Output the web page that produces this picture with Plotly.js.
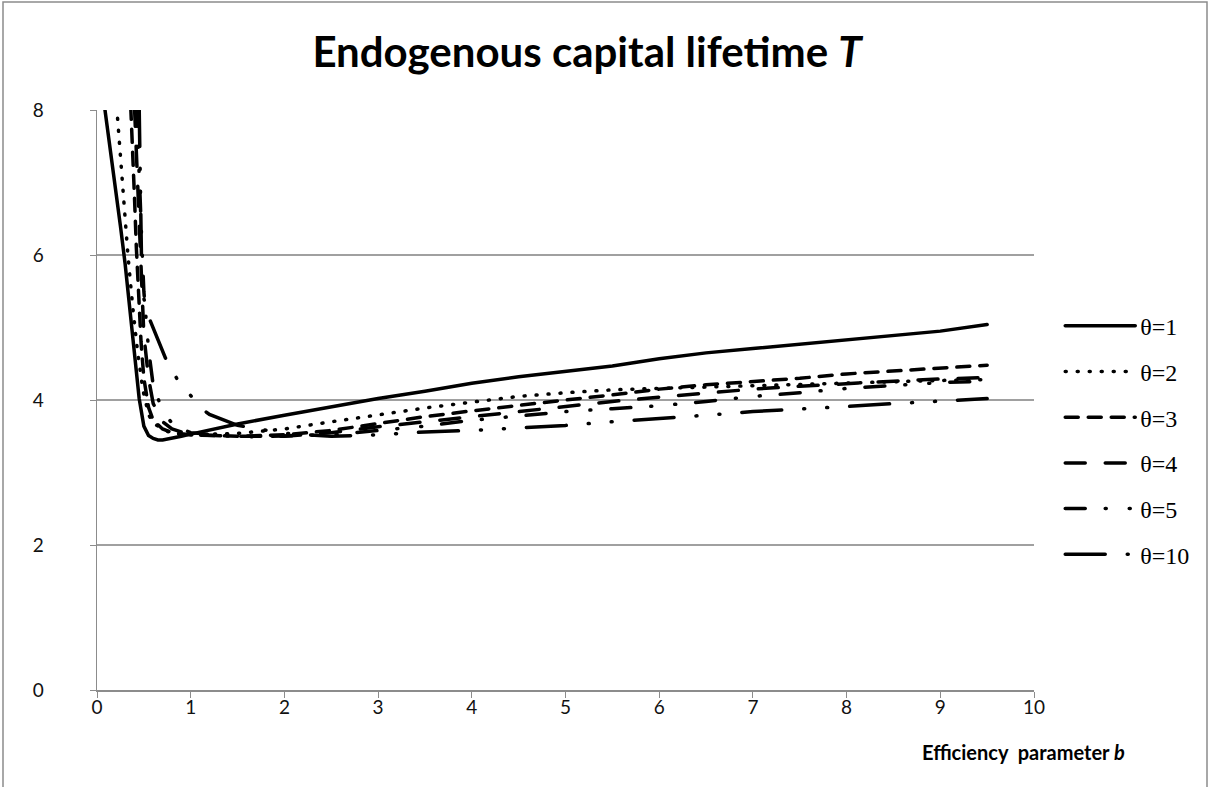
<!DOCTYPE html>
<html>
<head>
<meta charset="utf-8">
<script src="https://cdn.plot.ly/plotly-3.0.1.min.js"></script>
<style>
html,body{margin:0;padding:0;background:#fff;}
#chart{width:1210px;height:787px;}
.js-plotly-plot .scatterlayer path.js-line,
.js-plotly-plot .legend path.js-line{stroke-linecap:round;}
</style>
</head>
<body>
<div id="chart"></div>
<script>
// Efficiency parameter b and capital lifetime T for each theta
const b1  = [0.08,0.15,0.2,0.25,0.3,0.35,0.4,0.45,0.5,0.55,0.6,0.65,0.7,0.8,0.9,1.0,1.5,2,2.5,3,3.5,4,4.5,5,5.5,6,6.5,7,7.5,8,8.5,9,9.5];
const t1  = [8.05,7.4,6.9,6.4,5.88,5.25,4.6,4.02,3.64,3.51,3.47,3.45,3.45,3.47,3.5,3.53,3.67,3.79,3.91,4.02,4.12,4.23,4.32,4.4,4.47,4.57,4.65,4.71,4.77,4.84,4.89,4.95,5.04];

const b2  = [0.21,0.25,0.3,0.33,0.38,0.43,0.49,0.55,0.6,0.7,0.8,1.0,1.5,2,2.5,3,3.5,4,4.5,5,5.5,6,6.5,7,7.5,8,8.5,9,9.5];
const t2  = [8.05,7.35,6.5,6.0,5.3,4.7,4.14,3.8,3.68,3.6,3.54,3.52,3.54,3.6,3.7,3.8,3.89,3.97,4.05,4.1,4.14,4.16,4.18,4.2,4.21,4.23,4.25,4.27,4.28];

const b3  = [0.36,0.38,0.4,0.42,0.44,0.47,0.5,0.55,0.6,0.7,0.8,1.0,1.5,2,2.5,3,3.5,4,4.5,5,5.5,6,6.5,7,7.5,8,8.5,9,9.5];
const t3  = [8.05,7.5,6.8,6.1,5.5,4.8,4.3,3.9,3.72,3.6,3.55,3.52,3.5,3.52,3.58,3.68,3.77,3.85,3.93,4.0,4.07,4.15,4.21,4.25,4.3,4.36,4.4,4.44,4.48];

const b4  = [0.4,0.42,0.44,0.46,0.48,0.5,0.55,0.6,0.7,0.8,1.0,1.5,2,2.5,3,3.5,4,4.5,5,5.5,6,6.5,7,7.5,8,8.5,9,9.5];
const t4  = [8.05,7.4,6.7,6.0,5.4,4.9,4.3,3.95,3.7,3.6,3.52,3.5,3.5,3.55,3.63,3.7,3.78,3.85,3.92,3.98,4.04,4.1,4.15,4.19,4.23,4.26,4.29,4.31];

const b5  = [0.42,0.44,0.46,0.48,0.5,0.55,0.6,0.7,0.8,0.9,1.0,1.5,2,2.5,3,3.5,4,4.5,5,5.5,6,6.5,7,7.5,8,8.5,9,9.5];
const t5  = [8.05,7.5,6.8,6.1,5.5,4.7,4.2,3.85,3.68,3.6,3.55,3.49,3.5,3.52,3.58,3.64,3.72,3.78,3.84,3.88,3.92,3.98,4.05,4.1,4.16,4.2,4.24,4.26];

const b10 = [0.45,0.46,0.47,0.48,0.55,0.64,0.73,0.85,1.0,1.1,1.2,1.35,1.5,2,2.5,3,3.5,4,4.5,5,5.5,6,6.5,7,7.5,8,8.5,9,9.5];
const t10 = [8.05,7.0,6.0,5.5,5.15,4.86,4.58,4.3,4.05,3.9,3.8,3.72,3.65,3.54,3.5,3.52,3.56,3.58,3.61,3.65,3.7,3.74,3.79,3.84,3.87,3.91,3.95,3.98,4.02];

const seriesNames = ["θ=1","θ=2","θ=3","θ=4","θ=5","θ=10"];
const xTicks = [0,1,2,3,4,5,6,7,8,9,10];
const yTicks = [0,2,4,6,8];

const xs = [b1,b2,b3,b4,b5,b10];
const ys = [t1,t2,t3,t4,t5,t10];
const dashes = ["solid","1px,11px","13px,10px","20px,20px","20px,20px,1px,23px,1px,20px","40px,22px,1px,22px,1px,22px"];

const traces = xs.map((x,i)=>({
  x: x, y: ys[i], type:"scatter", mode:"lines", name: seriesNames[i],
  legendgroup: "g"+i,
  line:{color:"#000", width:3.5, dash:dashes[i]},
  hoverinfo:"skip"
}));

const layout = {
  width:1210, height:787,
  margin:{l:97, r:176, t:110, b:97},
  paper_bgcolor:"#fff", plot_bgcolor:"#fff",
  font:{family:"Lato, sans-serif", color:"#000"},
  title:{text:"<b>Endogenous capital lifetime <i>T</i></b>", font:{family:"Lato", size:42, color:"#000"},
    xref:"paper", x:0.523, xanchor:"center", yref:"container", y:0.934, yanchor:"middle"},
  xaxis:{range:[0,10], tickvals:xTicks, ticktext:xTicks.map(String), showgrid:false, zeroline:false,
    showline:true, linecolor:"#8c8c8c", linewidth:1.5, ticks:"outside", ticklen:6, tickcolor:"#8c8c8c", tickwidth:1,
    ticklabelstandoff:-6,
    tickfont:{family:"Lato", size:19, color:"#111"}},
  yaxis:{range:[0,8], tickvals:yTicks, ticktext:yTicks.map(String), showgrid:true, gridcolor:"#a0a0a0", gridwidth:1.3, zeroline:false,
    showline:true, linecolor:"#8c8c8c", linewidth:1.5, ticks:"outside", ticklen:6, tickcolor:"#8c8c8c", tickwidth:1,
    ticklabelstandoff:42,
    tickfont:{family:"Lato", size:19, color:"#111"}},
  legend:{x:1.028, xanchor:"left", y:0.666, yanchor:"top", tracegroupgap:11.5, itemwidth:70,
    font:{family:"Liberation Serif, Times New Roman, serif", size:24, color:"#000"}, bgcolor:"rgba(0,0,0,0)"},
  annotations:[{text:"<b>Efficiency  parameter <i>b</i></b>", xref:"paper", yref:"paper", x:1.099, xanchor:"right",
    y:-0.107, yanchor:"middle", showarrow:false, font:{family:"Lato", size:20, color:"#000"}}],
  shapes:[{type:"rect", xref:"paper", yref:"paper", x0:(3-97)/937, x1:(1207-97)/937, y0:-0.25, y1:(690-2)/580,
    line:{color:"#8c8c8c", width:1.5}, fillcolor:"rgba(0,0,0,0)", layer:"below"}],
  showlegend:true
};

Plotly.newPlot("chart", traces, layout, {displayModeBar:false, staticPlot:true});
</script>
</body>
</html>
